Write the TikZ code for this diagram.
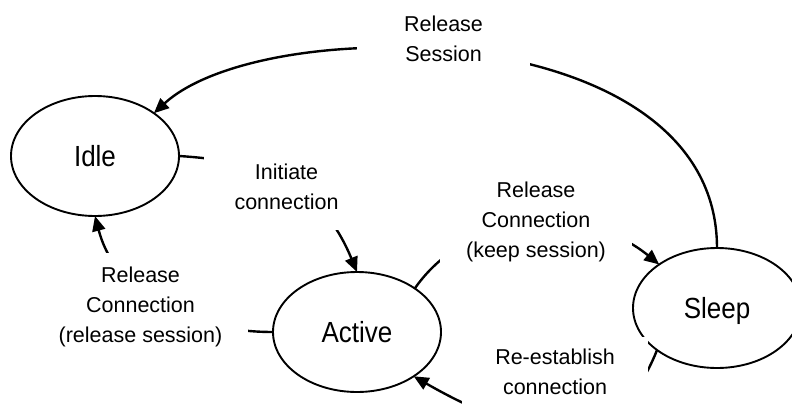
\documentclass[tikz,border=0pt]{standalone}
\usepackage{fontspec}
\setmainfont{Liberation Sans}
\usetikzlibrary{arrows.meta,shapes.geometric}
\begin{document}
\begin{tikzpicture}[x=1pt,y=-1pt,
  state/.style={ellipse, draw, line width=1.9pt, minimum width=168pt, minimum height=120pt,
    inner sep=0pt, outer sep=0pt, font=\fontsize{26}{30}\selectfont, text height=21pt, text depth=0pt},
  conn/.style={line width=2.4pt, -{Triangle[length=15pt,width=13pt]}},
  lbl/.style={fill=white, inner sep=0pt, align=center, font=\fontsize{21.5}{30}\selectfont}]
\path[use as bounding box, fill=white] (0,0) rectangle (792,407);
% states
\node[state] (Idle) at (95,156) {\scalebox{1}[1.12]{Idle}};
\node[state] (Active) at (357,332) {\scalebox{1}[1.12]{Active}};
\node[state] (Sleep) at (717,308) {\scalebox{1}[1.12]{Sleep}};
% connectors
\draw[conn] (Sleep.north) .. controls (717,15) and (264,12) .. (Idle.36);
\draw[conn] (Idle.east) .. controls (258,161) and (319,180) .. (Active.north);
\draw[conn] (Active.west) .. controls (190,332) and (116,296) .. (Idle.south);
\draw[conn] (Active.37) .. controls (469.5,210) and (585,204) .. (Sleep.143);
\draw[conn] (Sleep.215.4) .. controls (617,452) and (535,446) .. (Active.-38);
% labels
\node[lbl, minimum width=173pt, minimum height=58pt] (lRS) at (443.5,39) {Release\\Session};
\node[lbl, minimum width=165pt, minimum height=86pt] (lIC) at (286.5,187) {Initiate\\connection};
\node[lbl, minimum width=192pt, minimum height=85pt] (lKS) at (536,222.4) {Release\\Connection\\(keep session)};
\node[lbl, minimum width=215pt, minimum height=108pt] (lRL) at (140.5,307) {Release\\Connection\\(release session)};
\node[lbl, minimum width=186pt, minimum height=90pt, text height=45.7pt, text depth=20.3pt] (lRE) at (555,382) {Re-establish\\connection};
\end{tikzpicture}
\end{document}
